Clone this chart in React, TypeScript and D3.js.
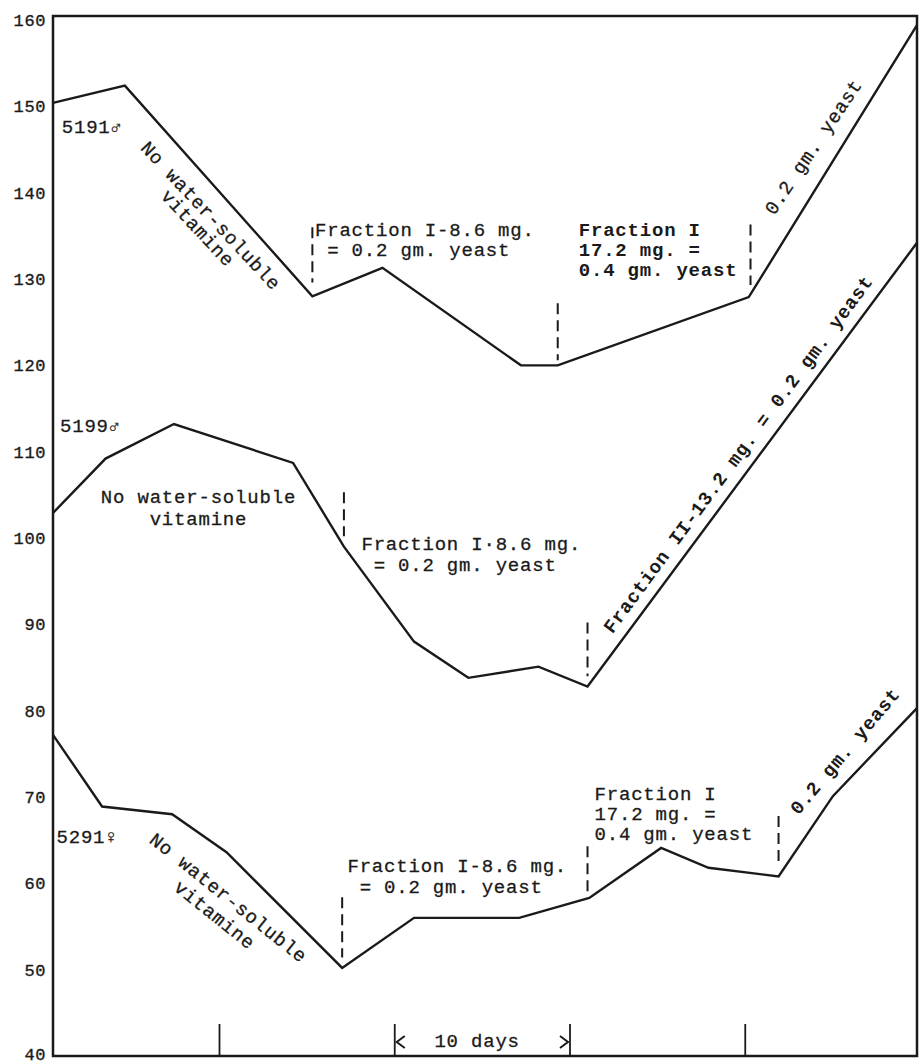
import React from "react";
import * as d3 from "d3";

// ---- data (days since start, body weight in grams) ----
const days5191 = [0.5, 4.6, 15.3, 19.3, 27.2, 29.3, 40.2, 49.8];
const weights5191 = [150.4, 152.4, 128.0, 131.3, 120.0, 120.0, 127.9, 159.4];

const days5199 = [0.5, 3.5, 7.4, 14.2, 17.1, 21.1, 24.2, 28.2, 31.0, 49.8];
const weights5199 = [102.9, 109.2, 113.2, 108.7, 99.0, 88.0, 83.8, 85.1, 82.8, 134.2];

const days5291 = [0.5, 3.3, 7.3, 10.4, 17.0, 21.1, 27.1, 31.1, 35.2, 37.9, 41.9, 45.0, 49.8];
const weights5291 = [77.2, 68.9, 68.0, 63.6, 50.2, 56.0, 56.0, 58.3, 64.1, 61.8, 60.8, 70.1, 80.3];

const yTickValues = [40, 50, 60, 70, 80, 90, 100, 110, 120, 130, 140, 150, 160];
const xTickDays = [10, 20, 30, 40];

// dashed intervention markers: day, upper weight, lower weight
const markerDays = [15.3, 29.3, 40.3, 17.1, 31.0, 17.0, 31.0, 41.9];
const markerTop = [136.0, 127.2, 136.3, 105.3, 90.2, 58.4, 64.3, 67.8];
const markerBottom = [129.6, 120.6, 129.3, 100.2, 84.0, 51.4, 58.4, 62.4];

// annotations anchored in data coordinates
type Note = {
  lines: string[];
  day: number;
  value: number;
  anchor: "start" | "middle";
  angle: number;
  bold?: boolean;
  lh?: number;
};
const notes: Note[] = [
  { lines: ["5191\u2642"], day: 1.0, value: 146.9, anchor: "start", angle: 0 },
  { lines: ["No water-soluble", "vitamine"], day: 9.5, value: 137.3, anchor: "middle", angle: 47, lh: 18 },
  { lines: ["Fraction I-8.6 mg.", " = 0.2 gm. yeast"], day: 15.45, value: 135.0, anchor: "start", angle: 0 },
  { lines: ["Fraction I", "17.2 mg. =", "0.4 gm. yeast"], day: 30.5, value: 135.0, anchor: "start", angle: 0, bold: true },
  { lines: ["0.2 gm. yeast"], day: 43.9, value: 145.3, anchor: "middle", angle: -56 },
  { lines: ["5199\u2642"], day: 0.9, value: 112.3, anchor: "start", angle: 0 },
  { lines: ["No water-soluble", "vitamine"], day: 8.8, value: 104.1, anchor: "middle", angle: 0, lh: 22 },
  { lines: ["Fraction I\u00b78.6 mg.", " = 0.2 gm. yeast"], day: 18.1, value: 98.6, anchor: "start", angle: 0, lh: 21 },
  { lines: ["Fraction II-13.2 mg. = 0.2 gm. yeast"], day: 39.6, value: 109.7, anchor: "middle", angle: -53.5, bold: true },
  { lines: ["5291\u2640"], day: 0.7, value: 64.7, anchor: "start", angle: 0 },
  { lines: ["No water-soluble", "vitamine"], day: 10.5, value: 58.3, anchor: "middle", angle: 38.7, lh: 22 },
  { lines: ["Fraction I-8.6 mg.", " = 0.2 gm. yeast"], day: 17.3, value: 61.3, anchor: "start", angle: 0, lh: 21 },
  { lines: ["Fraction I", "17.2 mg. =", "0.4 gm. yeast"], day: 31.4, value: 69.6, anchor: "start", angle: 0 },
  { lines: ["0.2 gm. yeast"], day: 45.7, value: 75.3, anchor: "middle", angle: -49.8, bold: true },
];
const spanLabel = "10 days";

const W = 919;
const H = 1064;
const FONT = "'Liberation Mono', 'DejaVu Sans Mono', monospace";
const INK = "#1a1a1a";

export default function App() {
  const x = d3.scaleLinear().domain([0.5, 49.8]).range([53, 917]);
  const y = d3.scaleLinear().domain([40, 160]).range([1056, 20]);

  const series = [
    { d: days5191, w: weights5191 },
    { d: days5199, w: weights5199 },
    { d: days5291, w: weights5291 },
  ];
  const line = d3
    .line<[number, number]>()
    .x((p) => x(p[0]))
    .y((p) => y(p[1]));

  const left = x(0.5);
  const right = x(49.8);
  const top = y(160) - 4;
  const bottom = y(40);

  const t20 = x(20);
  const t30 = x(30);
  const arrowY = bottom - 14;

  return (
    <svg
      width={W}
      height={H}
      style={{ position: "absolute", left: 0, top: 0, background: "#fff" }}
      fontFamily={FONT}
    >
      <rect x={0} y={0} width={W} height={H} fill="#fff" />
      {/* frame */}
      <path
        d={`M${left},${top}L${right},${top}L${right},${bottom}L${left},${bottom}Z`}
        fill="none"
        stroke={INK}
        strokeWidth={2.5}
      />
      {/* y labels */}
      {yTickValues.map((v) => (
        <text
          key={v}
          x={left - 7}
          y={Math.min(y(v) + 6, H - 4)}
          textAnchor="end"
          fontSize={17}
          letterSpacing={0.6}
          fill={INK}
          stroke={INK}
          strokeWidth={0.35}
        >
          {v}
        </text>
      ))}
      {/* x ticks */}
      {xTickDays.map((d) => (
        <line key={d} x1={x(d)} x2={x(d)} y1={bottom} y2={bottom - 32} stroke={INK} strokeWidth={1.8} />
      ))}
      {/* 10 days span */}
      <path
        d={`M${t20 + 10},${arrowY - 6}L${t20 + 2},${arrowY}L${t20 + 10},${arrowY + 6}M${t30 - 10},${arrowY - 6}L${t30 - 2},${arrowY}L${t30 - 10},${arrowY + 6}`}
        fill="none"
        stroke={INK}
        strokeWidth={2}
      />
      <text
        x={x(24.7)}
        y={y(41.0)}
        textAnchor="middle"
        fontSize={19}
        letterSpacing={0.8}
        fill={INK}
        stroke={INK}
        strokeWidth={0.3}
      >
        {spanLabel}
      </text>
      {/* series */}
      {series.map((s, i) => (
        <path
          key={i}
          d={line(s.d.map((dd, j) => [dd, s.w[j]] as [number, number])) || ""}
          fill="none"
          stroke={INK}
          strokeWidth={2.4}
          strokeLinejoin="miter"
        />
      ))}
      {/* dashed markers */}
      {markerDays.map((d, i) => (
        <line
          key={i}
          x1={x(d)}
          x2={x(d)}
          y1={y(markerTop[i])}
          y2={y(markerBottom[i])}
          stroke={INK}
          strokeWidth={2}
          strokeDasharray="11 6"
        />
      ))}
      {/* annotations */}
      {notes.map((n, i) => {
        const lh = n.lh ?? 20;
        const rotated = n.angle !== 0;
        return (
          <g key={i} transform={`translate(${x(n.day)},${y(n.value)}) rotate(${n.angle})`}>
            {n.lines.map((t, k) => (
              <text
                key={k}
                x={0}
                y={(rotated ? 6 : 0) + k * lh}
                textAnchor={n.anchor}
                fontSize={19}
                letterSpacing={0.8}
                fontWeight={n.bold ? "bold" : "normal"}
                fill={INK}
                stroke={INK}
                strokeWidth={n.bold ? 0 : 0.3}
                style={{ whiteSpace: "pre" }}
              >
                {t}
              </text>
            ))}
          </g>
        );
      })}
    </svg>
  );
}
